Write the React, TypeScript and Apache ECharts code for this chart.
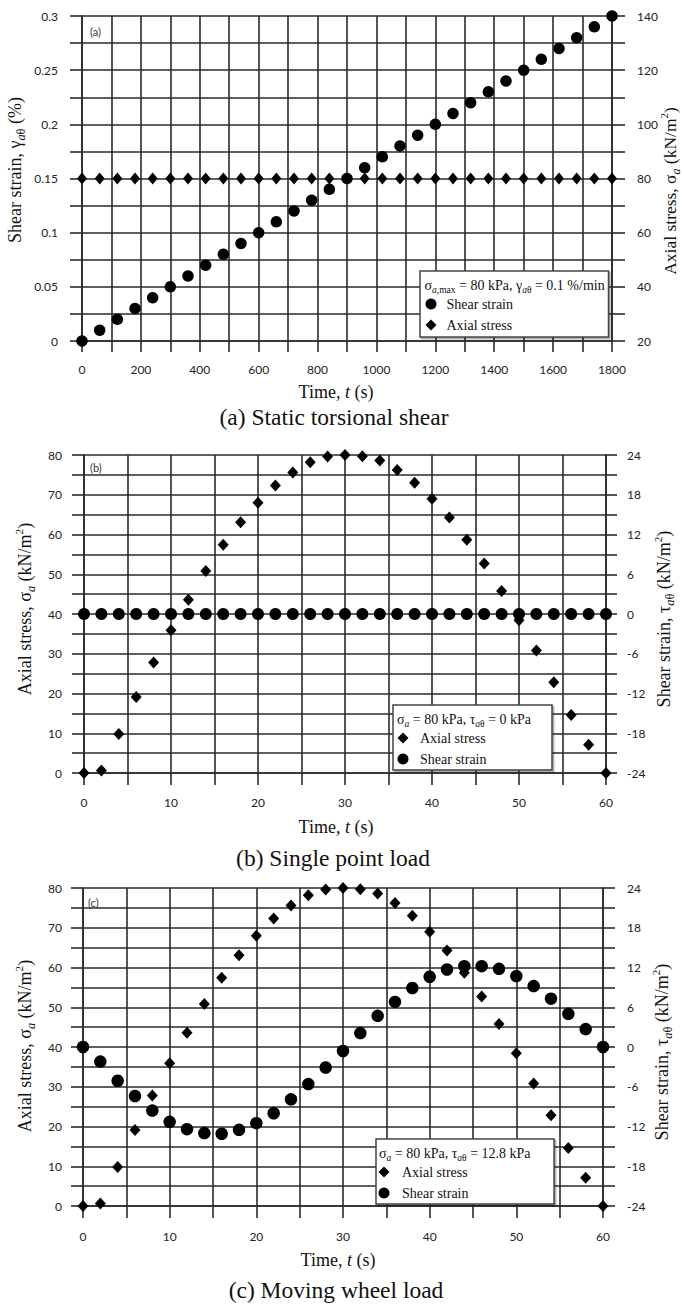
import { useEffect, useRef } from 'react';
import * as echarts from 'echarts';

// ---- (a) Static torsional shear ----
const timeA = [0, 60, 120, 180, 240, 300, 360, 420, 480, 540, 600, 660, 720, 780, 840, 900, 960, 1020, 1080, 1140, 1200, 1260, 1320, 1380, 1440, 1500, 1560, 1620, 1680, 1740, 1800];
const shearStrainA = [0, 0.01, 0.02, 0.03, 0.04, 0.05, 0.06, 0.07, 0.08, 0.09, 0.1, 0.11, 0.12, 0.13, 0.14, 0.15, 0.16, 0.17, 0.18, 0.19, 0.2, 0.21, 0.22, 0.23, 0.24, 0.25, 0.26, 0.27, 0.28, 0.29, 0.3];
const axialStressA = [80, 80, 80, 80, 80, 80, 80, 80, 80, 80, 80, 80, 80, 80, 80, 80, 80, 80, 80, 80, 80, 80, 80, 80, 80, 80, 80, 80, 80, 80, 80];

// ---- (b) Single point load / (c) Moving wheel load ----
const timeBC = [0, 2, 4, 6, 8, 10, 12, 14, 16, 18, 20, 22, 24, 26, 28, 30, 32, 34, 36, 38, 40, 42, 44, 46, 48, 50, 52, 54, 56, 58, 60];
const axialStressBC = [0, 0.6, 9.8, 19.1, 27.8, 35.9, 43.6, 50.8, 57.4, 63.1, 68, 72.3, 75.6, 78.2, 79.6, 80, 79.7, 78.6, 76.2, 73, 69, 64.3, 58.7, 52.7, 45.8, 38.4, 30.8, 22.8, 14.6, 7.1, 0];
const shearStressB = [0, 0, 0, 0, 0, 0, 0, 0, 0, 0, 0, 0, 0, 0, 0, 0, 0, 0, 0, 0, 0, 0, 0, 0, 0, 0, 0, 0, 0, 0, 0];
const shearStressC = [0, -2.2, -5.1, -7.4, -9.6, -11.3, -12.4, -13, -13.1, -12.5, -11.5, -10, -7.9, -5.6, -3.1, -0.6, 2.1, 4.7, 6.8, 8.9, 10.6, 11.7, 12.2, 12.2, 11.8, 10.7, 9.2, 7.3, 5, 2.7, 0];

// Axis ranges: [min, max, grid step, label step]
const xRangeA = [0, 1800, 100, 200];
const yLeftA = [0, 0.3, 0.025, 0.05];
const yRightA = [20, 140, 10, 20];
const xRangeBC = [0, 60, 5, 10];
const yLeftBC = [0, 80, 5, 10];
const yRightBC = [-24, 24, 3, 6];

const SERIF = 'Liberation Serif, Times New Roman, serif';
const SANS = 'Lato, Open Sans, sans-serif';
const LINE = { color: '#2a2a2a', width: 1.6 };
const MARK = '#000';
const INK = '#111';

const everyStep = (step: number) => (v: number) => {
  const r = Math.round((v / step) * 1e6) / 1e6;
  return Number.isInteger(r) ? String(+v.toFixed(3)) : '';
};

const pairs = (xs: number[], ys: number[]) => xs.map((x, i) => [x, ys[i]]);

const tickLabel = (margin: number, step: number) => ({
  margin, formatter: everyStep(step), fontFamily: SANS, fontSize: 12, color: '#222',
});

function xAxisCfg(gridIndex: number, r: number[], margin: number, tickLen: number) {
  return {
    gridIndex, type: 'value', min: r[0], max: r[1], interval: r[2],
    axisLine: { show: true, lineStyle: LINE },
    axisTick: { show: true, length: tickLen, lineStyle: LINE },
    splitLine: { show: true, lineStyle: LINE },
    axisLabel: tickLabel(margin, r[3]),
  };
}

function yAxisCfg(gridIndex: number, r: number[], position: string, margin: number, tickLen: number) {
  return {
    gridIndex, type: 'value', position, min: r[0], max: r[1], interval: r[2],
    axisLine: { show: true, lineStyle: LINE },
    axisTick: { show: true, length: tickLen, lineStyle: LINE },
    splitLine: { show: position === 'left', lineStyle: LINE },
    axisLabel: tickLabel(margin, r[3]),
  };
}

function scatter(name: string, xi: number, yi: number, data: number[][], symbol: string, size: number | number[]) {
  return {
    name, type: 'scatter', xAxisIndex: xi, yAxisIndex: yi, data, symbol, symbolSize: size,
    itemStyle: { color: MARK, opacity: 1 }, emphasis: { disabled: true }, z: 5,
  };
}

const tok = (fs: number, lh: number, extra: any = {}) => ({
  font: `${extra.fontStyle === 'italic' ? 'italic ' : ''}${fs}px ${SERIF}`,
  fontFamily: SERIF, fontSize: fs, lineHeight: lh, fill: INK, ...extra,
});

const rich = (fs: number, lh: number) => ({
  r: tok(fs, lh),
  i: tok(fs, lh, { fontStyle: 'italic' }),
  s: tok(fs * 0.68, fs * 0.68, { verticalAlign: 'bottom' }),
  si: tok(fs * 0.68, fs * 0.68, { verticalAlign: 'bottom', fontStyle: 'italic' }),
  p: tok(fs * 0.62, fs * 0.62, { verticalAlign: 'top' }),
});

function richText(x: number, y: number, text: string, fs: number, opts: any = {}) {
  return {
    type: 'text', x, y, rotation: opts.rotation || 0, z: opts.z || 60,
    style: {
      text, rich: rich(fs, fs + 6), font: `${fs}px ${SERIF}`, fontFamily: SERIF, fontSize: fs, fill: INK,
      align: opts.align || 'center', verticalAlign: 'middle',
    },
  };
}

function plainText(x: number, y: number, text: string, family: string, fs: number, align = 'center', fill = INK) {
  return {
    type: 'text', x, y, z: 60,
    style: { text, font: `${fs}px ${family}`, fontFamily: family, fontSize: fs, fill, align, verticalAlign: 'middle' },
  };
}

function legendBox(x: number, y: number, w: number, h: number) {
  return {
    type: 'rect', z: 50, shape: { x, y, width: w, height: h },
    style: { fill: '#fff', stroke: '#444', lineWidth: 1.5, shadowColor: 'rgba(0,0,0,0.35)', shadowOffsetX: 1.5, shadowOffsetY: 1.5, shadowBlur: 1 },
  };
}

function legendCfg(left: number, top: number, pad: number, data: any[]) {
  return {
    left, top, orient: 'vertical', padding: 0, itemGap: 5, itemWidth: 11, itemHeight: 11,
    selectedMode: false, z: 60, data,
    textStyle: { fontFamily: SERIF, fontSize: 14, color: INK, lineHeight: 16, padding: [0, 0, 0, pad] },
  };
}

const NB = '\u00A0';
const ROT = Math.PI / 2;

export default function App() {
  const ref = useRef<HTMLDivElement>(null);

  useEffect(() => {
    if (!ref.current) return;
    const chart = echarts.init(ref.current, undefined, { renderer: 'svg' });

    const option: any = {
      animation: false,
      backgroundColor: '#fff',
      grid: [
        { left: 82, top: 16, width: 530, height: 325 },
        { left: 84, top: 455, width: 522, height: 318 },
        { left: 83, top: 888, width: 520, height: 318 },
      ],
      xAxis: [
        xAxisCfg(0, xRangeA, 22, 11),
        xAxisCfg(1, xRangeBC, 23, 12),
        xAxisCfg(2, xRangeBC, 24, 12),
      ],
      yAxis: [
        yAxisCfg(0, yLeftA, 'left', 24, 12),
        yAxisCfg(0, yRightA, 'right', 25, 13),
        yAxisCfg(1, yLeftBC, 'left', 22, 12),
        yAxisCfg(1, yRightBC, 'right', 21, 11),
        yAxisCfg(2, yLeftBC, 'left', 21, 12),
        yAxisCfg(2, yRightBC, 'right', 24, 12),
      ],
      legend: [
        legendCfg(425.5, 296, 5, [{ name: 'Shear strain', icon: 'circle' }, { name: 'Axial stress', icon: 'diamond' }]),
        legendCfg(397.5, 730, 6.5, [{ name: 'Axial stress', icon: 'diamond' }, { name: 'Shear strain', icon: 'circle' }]),
        legendCfg(378.5, 1164, 7.5, [{ name: 'Axial stress', icon: 'diamond' }, { name: 'Shear strain', icon: 'circle' }]),
      ],
      series: [
        scatter('Shear strain', 0, 0, pairs(timeA, shearStrainA), 'circle', 11.5),
        scatter('Axial stress', 0, 1, pairs(timeA, axialStressA), 'diamond', [10, 12]),
        scatter('Axial stress', 1, 2, pairs(timeBC, axialStressBC), 'diamond', [11, 12]),
        scatter('Shear strain', 1, 3, pairs(timeBC, shearStressB), 'circle', 12),
        scatter('Axial stress', 2, 4, pairs(timeBC, axialStressBC), 'diamond', [11, 12]),
        scatter('Shear strain', 2, 5, pairs(timeBC, shearStressC), 'circle', 12.5),
      ],
      graphic: [
        // panel tags
        plainText(90, 31, '(a)', SANS, 11, 'left', '#333'),
        plainText(90, 467, '(b)', SANS, 11, 'left', '#333'),
        plainText(88, 902, '(c)', SANS, 11, 'left', '#333'),

        // axis titles, panel (a)
        richText(15, 170, `{r|Shear strain, γ}{si|a}{s|θ}{r|${NB}(%)}`, 18, { rotation: ROT }),
        richText(670, 191, `{r|Axial stress, σ}{si|a}{r|${NB}(kN/m}{p|2}{r|)}`, 17.5, { rotation: ROT }),
        richText(336, 392, `{r|Time, }{i|t}{r|${NB}(s)}`, 18),
        plainText(334, 417, '(a) Static torsional shear', SERIF, 23.5),

        // axis titles, panel (b)
        richText(25, 609, `{r|Axial stress, σ}{si|a}{r|${NB}(kN/m}{p|2}{r|)}`, 18, { rotation: ROT }),
        richText(664, 619, `{r|Shear strain, τ}{si|a}{s|θ}{r|${NB}(kN/m}{p|2}{r|)}`, 18, { rotation: ROT }),
        richText(336, 827, `{r|Time, }{i|t}{r|${NB}(s)}`, 18),
        plainText(333, 858, '(b) Single point load', SERIF, 23.5),

        // axis titles, panel (c)
        richText(25, 1046, `{r|Axial stress, σ}{si|a}{r|${NB}(kN/m}{p|2}{r|)}`, 18, { rotation: ROT }),
        richText(662, 1052, `{r|Shear strain, τ}{si|a}{s|θ}{r|${NB}(kN/m}{p|2}{r|)}`, 18, { rotation: ROT }),
        richText(338, 1260, `{r|Time, }{i|t}{r|${NB}(s)}`, 18),
        plainText(336, 1290, '(c) Moving wheel load', SERIF, 23.5),

        // legend frames and their headers
        legendBox(420, 271, 188.5, 66),
        richText(424.5, 285, `{r|σ}{si|a}{s|,max}{r|${NB}= 80 kPa, γ}{si|a}{s|θ}{r|${NB}= 0.1 %/min}`, 14, { align: 'left' }),
        legendBox(393, 705, 159, 65),
        richText(397, 719, `{r|σ}{si|a}{r|${NB}= 80 kPa, τ}{si|a}{s|θ}{r|${NB}= 0 kPa}`, 14, { align: 'left' }),
        legendBox(376, 1139, 178, 65),
        richText(379, 1153, `{r|σ}{si|a}{r|${NB}= 80 kPa, τ}{si|a}{s|θ}{r|${NB}= 12.8 kPa}`, 14, { align: 'left' }),
      ],
    };

    chart.setOption(option);
    return () => chart.dispose();
  }, []);

  return (
    <div
      ref={ref}
      style={{ position: 'absolute', left: 0, top: 0, width: 684, height: 1305, background: '#fff' }}
    />
  );
}
